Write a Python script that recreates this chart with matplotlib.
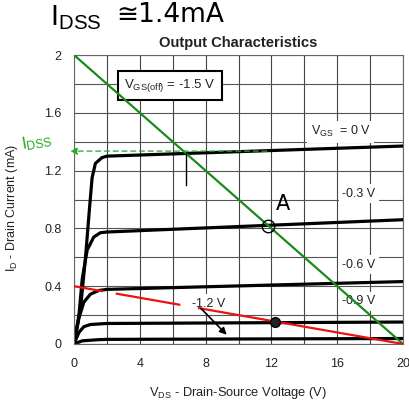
import matplotlib
matplotlib.use("Agg")
import matplotlib.pyplot as plt
import numpy as np

plt.rcParams['font.family'] = ['Liberation Sans', 'DejaVu Sans']
plt.rcParams['mathtext.fontset'] = 'custom'
plt.rcParams['mathtext.rm'] = 'Liberation Sans'
plt.rcParams['mathtext.it'] = 'Liberation Sans'

# ---- data ----
vgs_labels = ["V$_{GS}$  = 0 V", "-0.3 V", "-0.6 V", "-0.9 V", "-1.2 V"]
vds_0 = [0, 0.4, 0.7, 0.95, 1.1, 1.3, 1.7, 2.0, 20]
id_0 = [0, 0.25, 0.6, 0.95, 1.15, 1.25, 1.29, 1.30, 1.37]
vds_1 = [0, 0.3, 0.5, 0.8, 1.2, 1.6, 2.0, 20]
id_1 = [0, 0.2, 0.45, 0.65, 0.74, 0.77, 0.775, 0.86]
vds_2 = [0, 0.3, 0.6, 1.0, 1.5, 2.0, 20]
id_2 = [0, 0.18, 0.29, 0.345, 0.37, 0.378, 0.432]
vds_3 = [0, 0.3, 0.6, 1.0, 2.0, 20]
id_3 = [0, 0.08, 0.12, 0.135, 0.142, 0.152]
vds_4 = [0, 0.5, 1.5, 2.0, 20]
id_4 = [0, 0.022, 0.03, 0.032, 0.038]
curves = [(vds_0, id_0), (vds_1, id_1), (vds_2, id_2), (vds_3, id_3), (vds_4, id_4)]
label_pos = [(16.2, 1.47), (17.3, 1.04), (17.3, 0.55), (17.3, 0.295), (8.2, 0.28)]

# load lines: (VDS, ID) end points
green_x = [0, 20]
green_y = [2.0, 0.0]
red_x = [0, 20]
red_y = [0.4, 0.0]
red_gaps = [(1.7, 2.6), (6.4, 7.6)]

x_ticks = [0, 4, 8, 12, 16, 20]
y_ticks = [0, 0.4, 0.8, 1.2, 1.6, 2.0]
y_ticklabels = ["0", "0.4", "0.8", "1.2", "1.6", "2"]

fig = plt.figure(figsize=(4.09, 4.05), dpi=100)
ax = fig.add_axes([74/409, 1-344/405, (403-74)/409, (344-55)/405])
ax.set_xlim(0, 20)
ax.set_ylim(0, 2)

for gx in np.arange(0, 21, 2):
    ax.axvline(gx, color='#444444', lw=0.8, zorder=1)
for gy in np.arange(0, 2.01, 0.2):
    ax.axhline(gy, color='#555555', lw=0.8, zorder=1)

for vx, iy in curves:
    ax.plot(vx, iy, color='black', lw=2.3, zorder=2, solid_capstyle='round')

for (lx, ly), txt in zip(label_pos, vgs_labels):
    ax.text(lx, ly, txt, ha='center', va='center', fontsize=9, color='#222222', zorder=3,
            bbox=dict(facecolor='white', edgecolor='none', pad=2.5))

ax.text(5.85, 1.79, "V$_{GS(off)}$ = -1.5 V", ha='center', va='center', fontsize=9.5,
        color='#222222', zorder=3,
        bbox=dict(facecolor='white', edgecolor='black', lw=1.5, pad=4.5))

ax.plot(green_x, green_y, color='#1a8a1a', lw=1.6, zorder=4)

# red line drawn in pieces (gaps as in reference)
slope = (red_y[1]-red_y[0])/(red_x[1]-red_x[0])
starts = [red_x[0]] + [g[1] for g in red_gaps]
ends = [g[0] for g in red_gaps] + [red_x[1]]
for s, e in zip(starts, ends):
    ax.plot([s, e], [red_y[0]+slope*s, red_y[0]+slope*e], color='#ee1111', lw=1.6, zorder=4)

# handwritten-style annotations
ax.plot([11.8], [0.82], marker='o', ms=9, mfc='none', mec='black', mew=1.0, zorder=5)
ax.plot([12.2], [0.155], marker='o', ms=7, mfc='#222222', mec='black', zorder=5)
ax.text(12.7, 0.97, "A", fontsize=15, color='black', zorder=5, ha='center', va='center',
        family=['DejaVu Sans'])
ax.annotate("", xy=(9.4, 0.05), xytext=(7.6, 0.26),
            arrowprops=dict(arrowstyle='-|>', color='black', lw=1.2), zorder=5)
ax.plot([6.8, 6.8], [1.32, 1.1], color='black', lw=1.0, zorder=5)
ax.annotate("", xy=(-0.4, 1.335), xytext=(11.9, 1.335), annotation_clip=False,
            arrowprops=dict(arrowstyle='-|>', color='#22aa22', lw=0.9, ls=(0, (4, 3))), zorder=5)

ax.set_xticks(x_ticks)
ax.set_yticks(y_ticks)
ax.set_yticklabels(y_ticklabels)
ax.tick_params(length=0, labelsize=9, colors='#222222', pad=9)
ax.tick_params(axis='x', pad=10)
for sp in ax.spines.values():
    sp.set_color('#666666')
    sp.set_linewidth(0.8)

ax.set_xlabel("V$_{DS}$ - Drain-Source Voltage (V)", fontsize=9.3, color='#222222')
ax.xaxis.set_label_coords(0.5, -(385-344)/289, transform=ax.transAxes)
ax.set_ylabel("I$_{D}$ - Drain Current (mA)", fontsize=9, color='#222222')
ax.yaxis.set_label_coords(-(74-20)/329, (344-208)/289, transform=ax.transAxes)
ax.set_title("Output Characteristics", fontsize=10.6, fontweight='bold', color='#222222', pad=6)

# handwritten note at top: I_DSS ≅ 1.4 mA
fig.text(50/409, 1-18/405, "I$_{DSS}$", fontsize=21, color='black', va='center', ha='left')
fig.text(116/409, 1-15/405, "≅1.4mA", fontsize=19, color='black', va='center', ha='left',
         family=['DejaVu Sans'])
fig.text(20/409, 1-142/405, "I$_{DSS}$", fontsize=12.5, color='#22aa22', va='center', ha='left',
         rotation=10)

fig.savefig("out.png", dpi=100)
